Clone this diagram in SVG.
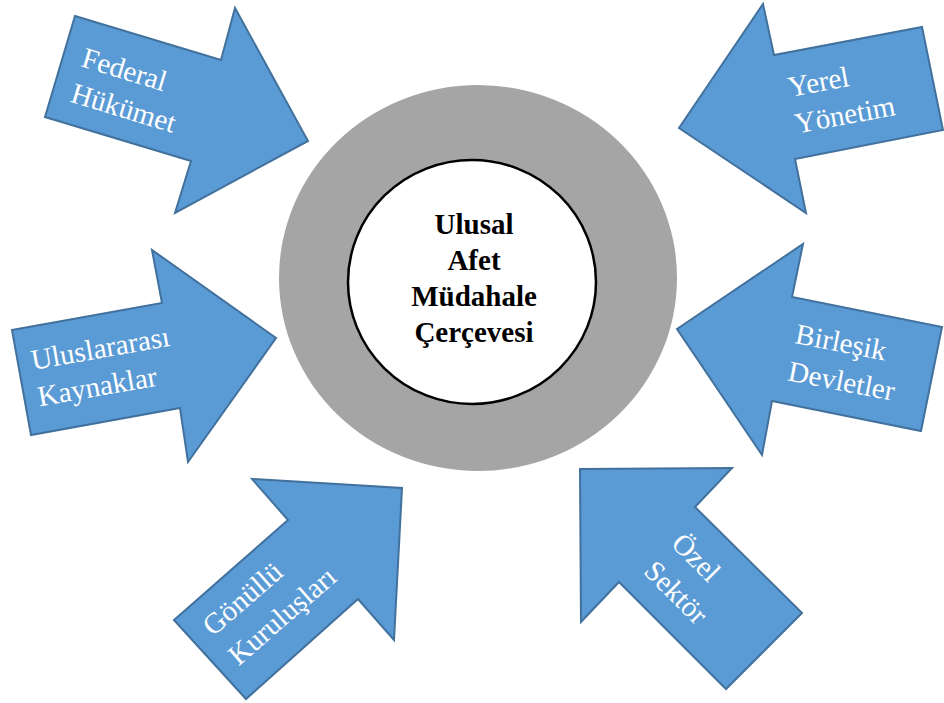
<svg xmlns="http://www.w3.org/2000/svg" width="944" height="703" viewBox="0 0 944 703">
  <style>
    .arrow { fill: #5B9BD5; stroke: #41719C; stroke-width: 2; stroke-linejoin: miter; }
    .lbl { font-size: 29px; fill: #FFFFFF; }
    .core { font-size: 29px; font-weight: bold; fill: #000000; text-anchor: middle; }
  </style>
  <rect width="944" height="703" fill="#FFFFFF"/>

  <!-- central framework: grey ring with white core -->
  <g id="framework">
    <ellipse cx="478" cy="278" rx="199" ry="193" fill="#A5A5A5"/>
    <ellipse cx="472" cy="282" rx="124" ry="122" fill="#FFFFFF" stroke="#000000" stroke-width="2.5"/>
    <text class="core" font-family="'Liberation Serif', 'DejaVu Serif', serif"><tspan x="474" y="234">Ulusal</tspan><tspan x="474" y="270">Afet</tspan><tspan x="474" y="306">Müdahale</tspan><tspan x="474" y="342">Çerçevesi</tspan></text>
  </g>

  <!-- block arrows pointing at the framework -->
  <g id="connectors" font-family="'Liberation Serif', 'DejaVu Serif', serif">
    <g id="federal">
      <polygon class="arrow" points="75,16 221,60 235,8 308,141 175,213 191,161 45,117"/>
      <text class="lbl" transform="translate(80,66) rotate(17)"><tspan x="0" y="0">Federal</tspan><tspan x="0" y="37">Hükümet</tspan></text>
    </g>
    <g id="yerel">
      <polygon class="arrow" points="679,128 763,4 774,55 922,27 943,130 795,159 806,213"/>
      <text class="lbl" transform="translate(790,97) rotate(-10.5)"><tspan x="0" y="0">Yerel</tspan><tspan x="0" y="37">Yönetim</tspan></text>
    </g>
    <g id="uluslararasi">
      <polygon class="arrow" points="12,330 162,303 152,250 276,338 188,462 180,408 31,435"/>
      <text class="lbl" transform="translate(33,370) rotate(-10)"><tspan x="0" y="0">Uluslararası</tspan><tspan x="0" y="37">Kaynaklar</tspan></text>
    </g>
    <g id="birlesik">
      <polygon class="arrow" points="677,329 803,244 792,297 942,327 921,431 772,401 762,455"/>
      <text class="lbl" transform="translate(794,343) rotate(11)"><tspan x="0" y="0">Birleşik</tspan><tspan x="0" y="38">Devletler</tspan></text>
    </g>
    <g id="gonullu">
      <polygon class="arrow" points="252,479 402,488 394,640 358,599 246,699 174,620 288,520"/>
      <text class="lbl" transform="translate(213,637) rotate(-41)"><tspan x="0" y="0">Gönüllü</tspan><tspan x="0" y="39">Kuruluşları</tspan></text>
    </g>
    <g id="ozel">
      <polygon class="arrow" points="580,469 732,468 695,507 802,613 726,689 619,582 581,622"/>
      <text class="lbl" transform="translate(670,545) rotate(45)"><tspan x="0" y="0">Özel</tspan><tspan x="0" y="39">Sektör</tspan></text>
    </g>
  </g>
</svg>
